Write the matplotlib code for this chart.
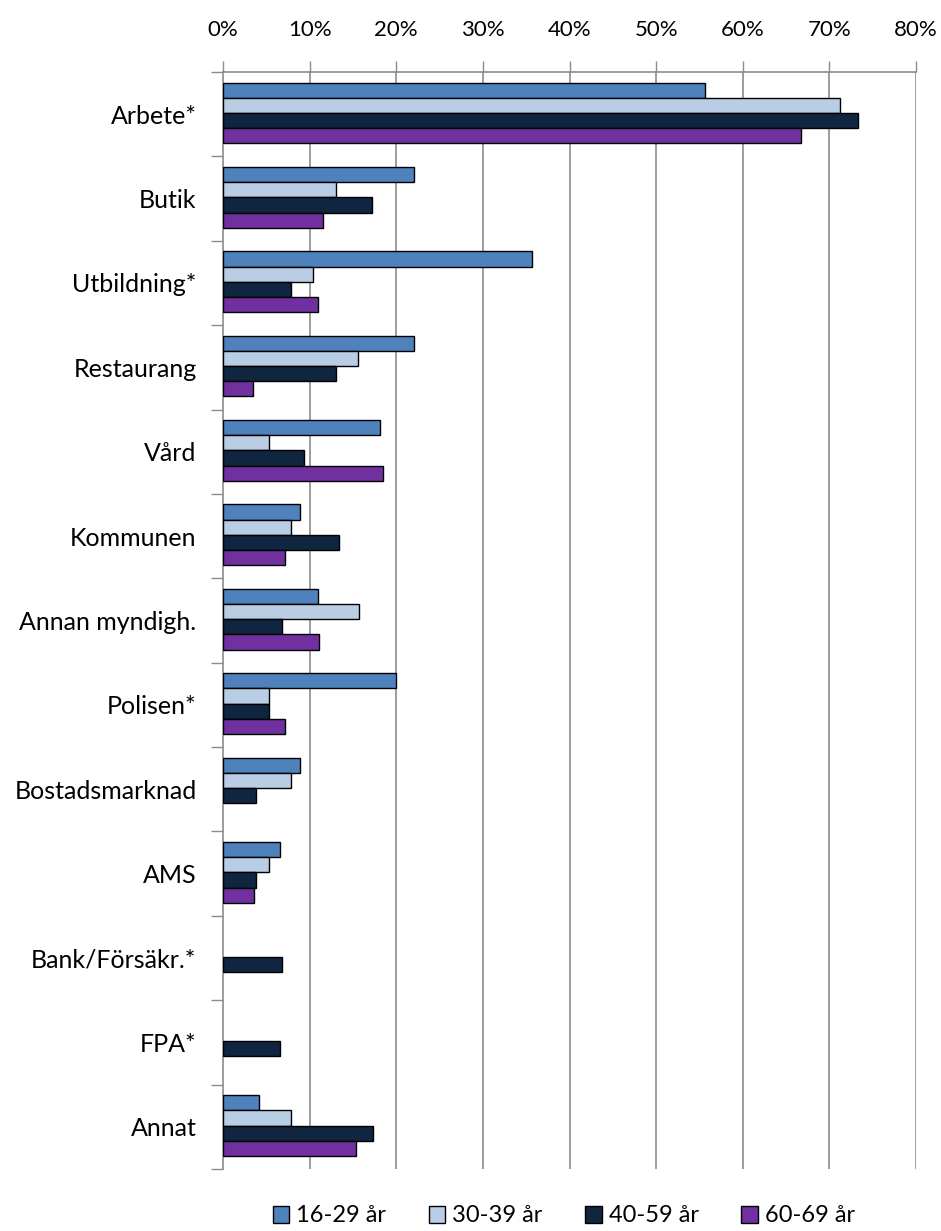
import numpy as np
import matplotlib
matplotlib.use('Agg')
import matplotlib.pyplot as plt
from matplotlib.patches import Patch

# data (percent)
categories = ['Arbete*', 'Butik', 'Utbildning*', 'Restaurang', 'Vård', 'Kommunen',
              'Annan myndigh.', 'Polisen*', 'Bostadsmarknad', 'AMS',
              'Bank/Försäkr.*', 'FPA*', 'Annat']
series_names = ['16-29 år', '30-39 år', '40-59 år', '60-69 år']
age_16_29 = [55.6, 22.1, 35.7, 22.1, 18.1, 8.9, 11.0, 20.0, 8.9, 6.6, None, None, 4.2]
age_30_39 = [71.2, 13.1, 10.4, 15.6, 5.3, 7.8, 15.7, 5.3, 7.8, 5.3, None, None, 7.8]
age_40_59 = [73.3, 17.2, 7.8, 13.1, 9.4, 13.4, 6.8, 5.3, 3.8, 3.8, 6.8, 6.6, 17.3]
age_60_69 = [66.7, 11.5, 11.0, 3.5, 18.5, 7.2, 11.1, 7.2, None, 3.6, None, None, 15.3]
x_ticks = [0, 10, 20, 30, 40, 50, 60, 70, 80]

colors = ['#4F81BD', '#B9CDE5', '#10253F', '#7030A0']
grid_col = '#8C8C8C'

plt.rcParams['font.family'] = ['Lato', 'DejaVu Sans']

fig = plt.figure(figsize=(9.41, 12.31), dpi=100)
ax = fig.add_axes([223 / 941, 1 - 1169 / 1231, (916 - 223) / 941, (1169 - 72) / 1231])

n = len(categories)
y = np.arange(n)
bar_h = 0.18
all_series = [age_16_29, age_30_39, age_40_59, age_60_69]
for k, vals in enumerate(all_series):
    off = (k - 1.5) * bar_h - 0.015
    ys = [y[i] + off for i in range(n) if vals[i] is not None]
    ws = [v for v in vals if v is not None]
    ax.barh(ys, ws, height=bar_h, color=colors[k], edgecolor='black',
            linewidth=1.0, zorder=3)

ax.set_xlim(0, 80)
ax.set_ylim(n - 0.5, -0.5)

# x axis on top
ax.xaxis.tick_top()
ax.set_xticks(x_ticks)
ax.set_xticklabels([f'{t}%' for t in x_ticks], fontsize=16)
ax.tick_params(axis='x', direction='out', length=8, width=1, color=grid_col, pad=15)
for t in x_ticks[1:]:
    ax.axvline(t, color=grid_col, linewidth=1.2, zorder=1)

# y axis: labels centred on groups, ticks at boundaries
ax.set_yticks(y)
ax.set_yticklabels(categories, fontsize=18)
ax.tick_params(axis='y', length=0, pad=19)
ax.set_yticks(np.arange(n + 1) - 0.5, minor=True)
ax.tick_params(axis='y', which='minor', direction='out', length=9, width=1, color=grid_col)

for s in ['right', 'bottom']:
    ax.spines[s].set_visible(False)
ax.spines['top'].set_color(grid_col)
ax.spines['left'].set_color(grid_col)
ax.spines['top'].set_linewidth(1.2)
ax.spines['left'].set_linewidth(1.2)

handles = [Patch(facecolor=c, edgecolor='black', linewidth=1.0) for c in colors]
fig.legend(handles, series_names, loc='center', ncol=4, frameon=False,
           bbox_to_anchor=(564 / 941, 1 - 1216 / 1231), fontsize=17,
           handlelength=0.7, handleheight=0.7, handletextpad=0.3, columnspacing=1.8)

fig.savefig('out.png', dpi=100)
